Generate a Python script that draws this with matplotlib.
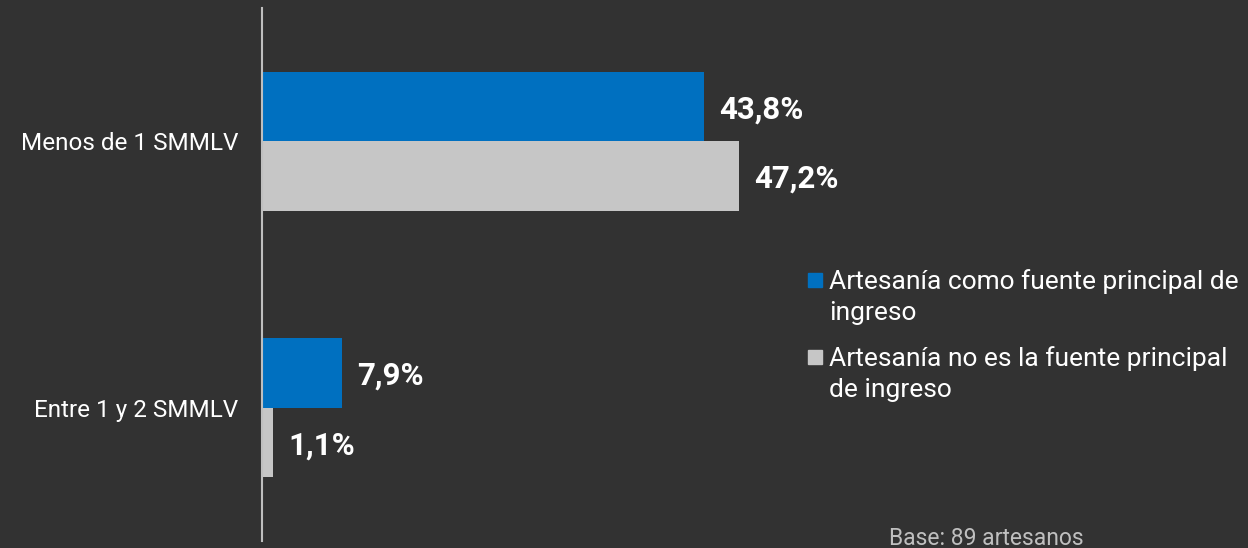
import matplotlib.pyplot as plt
from matplotlib.patches import Rectangle

# Data
categories = ["Entre 1 y 2 SMMLV", "Menos de 1 SMMLV"]
principal = [7.9, 43.8]
no_principal = [1.1, 47.2]
series_labels = ["Artesanía como fuente principal de\ningreso",
                 "Artesanía no es la fuente principal\nde ingreso"]
colors = ["#0070C0", "#C6C6C6"]
bg = "#323232"

plt.rcParams['font.family'] = ['Roboto', 'DejaVu Sans']

W, H = 1248, 548
fig = plt.figure(figsize=(W / 100, H / 100), dpi=100, facecolor=bg)
ax = fig.add_axes([262 / W, 7 / H, 505 / W, 533 / H], facecolor=bg)

h = 0.26
ypos = list(range(len(categories)))
ax.barh([y + h / 2 for y in ypos], principal, height=h, color=colors[0])
ax.barh([y - h / 2 for y in ypos], no_principal, height=h, color=colors[1])

for vals, off in [(principal, h / 2), (no_principal, -h / 2)]:
    for y, v in zip(ypos, vals):
        ax.annotate(f"{v:.1f}%".replace(".", ","), (v, y + off),
                    xytext=(11, -2), textcoords='offset points',
                    va='center', ha='left', color='white',
                    fontsize=22.5, fontweight='bold')

ax.set_xlim(0, 50)
ax.set_ylim(-0.5, 1.5)
ax.set_yticks(ypos)
ax.set_yticklabels(categories, fontsize=17.5, color='white')
ax.tick_params(axis='y', length=0, pad=17)
ax.set_xticks([])
for pos in ['right', 'top', 'bottom']:
    ax.spines[pos].set_visible(False)
ax.spines['left'].set_color('#BFBFBF')
ax.spines['left'].set_linewidth(1.5)

# Legend drawn by hand so the square sits on the first line
legend_tops = [280, 357]
for lab, col, yc in zip(series_labels, colors, legend_tops):
    fig.patches.append(Rectangle((808 / W, 1 - (yc + 7) / H), 14 / W, 14 / H,
                                 transform=fig.transFigure, color=col))
    for i, line in enumerate(lab.split("\n")):
        fig.text(829 / W, 1 - (yc + 9 + 31 * i) / H, line, color='white',
                 fontsize=19, va='baseline', ha='left')

fig.text(889 / W, 3 / H, "Base: 89 artesanos", color='#BFBFBF',
         fontsize=16.5, va='baseline', ha='left')

fig.savefig("out.png", dpi=100, facecolor=bg)
